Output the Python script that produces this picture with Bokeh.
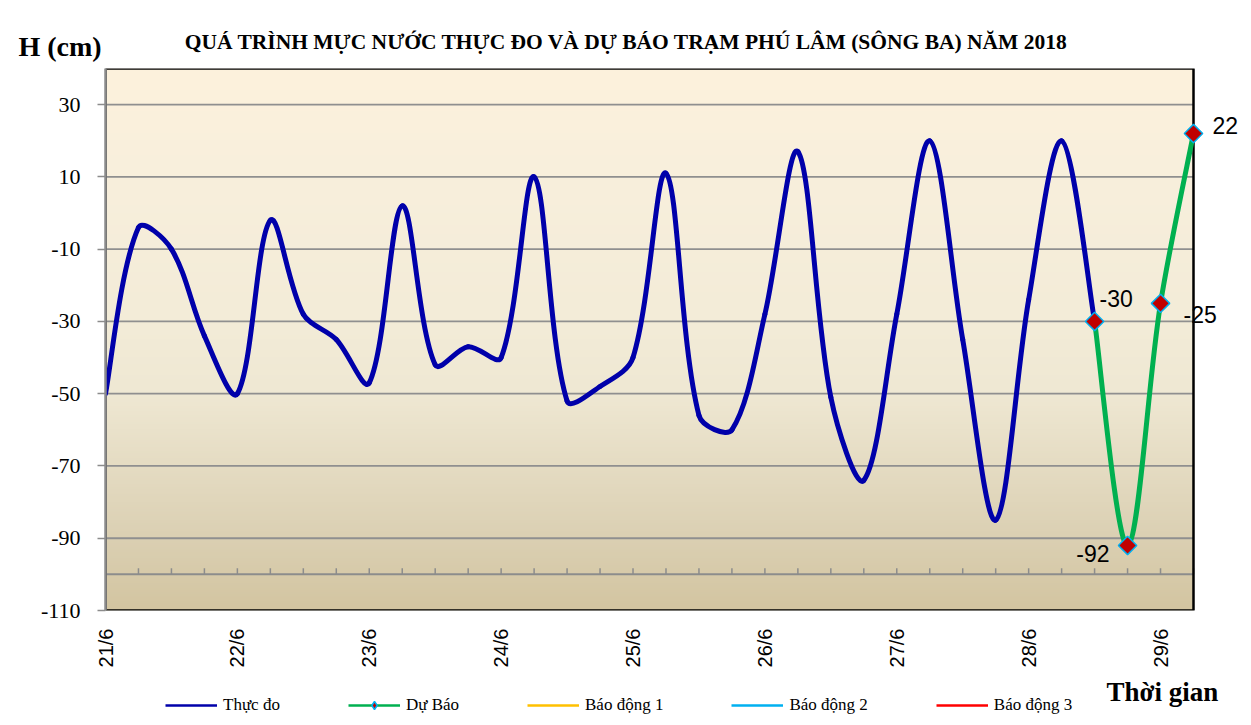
import math
import numpy as np
from bokeh.plotting import figure
from bokeh.layouts import column
from bokeh.models import (FixedTicker, LinearAxis, Range1d, Legend, LegendItem,
                          ColumnDataSource)
from bokeh.core.properties import value
from bokeh.embed import file_html
from bokeh.resources import INLINE

# ---------------- data ----------------
day_labels = ["21/6", "22/6", "23/6", "24/6", "25/6", "26/6", "27/6", "28/6", "29/6"]
day_ticks = [0, 1, 2, 3, 4, 5, 6, 7, 8]
y_ticks = [-110, -90, -70, -50, -30, -10, 10, 30]

# observed water level (cm), every 6 h from 21/6 00:00
obs_hours = [0, 6, 12, 18, 24, 30, 36, 42, 48, 54, 60, 66, 72, 78, 84, 90,
             96, 102, 108, 114, 120, 126, 132, 138, 144, 150, 156, 162, 168, 174, 180]
obs_level = [-50, -4, -10, -34, -50, -2, -28, -35, -47, 2, -42, -37, -40, 10, -52, -48,
             -40, 11, -56, -60, -28, 17, -51, -74, -28, 20, -35, -85, -24, 20, -30]

# forecast
fc_hours = [180, 186, 192, 198]
fc_level = [-30, -92, -25, 22]

series_names = ["Thực đo", "Dự Báo", "Báo động 1", "Báo động 2", "Báo động 3"]
series_colors = ["#0000AA", "#00B050", "#FFC000", "#00B0F0", "#FF0000"]

title_text = "QUÁ TRÌNH MỰC NƯỚC THỰC ĐO VÀ DỰ BÁO TRẠM PHÚ LÂM (SÔNG BA) NĂM 2018"
y_title = "H (cm)"
x_title = "Thời gian"

SERIF = "Liberation Serif"
SANS = "Liberation Sans"

obs_x = [h / 24.0 for h in obs_hours]
fc_x = [h / 24.0 for h in fc_hours]

# ---------------- layout constants ----------------
W = 1249
TOP_H = 68          # strip with the titles
FRAME_H = 542       # plot area height
AX_H = 60           # date labels
BOT_H = 53          # legend strip
LEFT = 105
PLOT_W = 1088       # plot area width in px
X0, X1 = 0, 8.25
Y0, Y1 = -110, 40
X_END = X1 * (W - LEFT) / PLOT_W
PX_X = PLOT_W / (X1 - X0)
PX_Y = FRAME_H / (Y1 - Y0)


def smooth_segments(xs, ys):
    """Cubic Bezier control points of a smoothed line through the points
    (tangent scaled by neighbouring segment lengths, as spreadsheet charts do)."""
    n = len(xs)

    def seglen(i):  # length of segment i -> i+1 in screen pixels
        if i < 0 or i >= n - 1:
            return 0.0
        return math.hypot((xs[i + 1] - xs[i]) * PX_X, (ys[i + 1] - ys[i]) * PX_Y)

    def tangent(i):
        a = max(i - 1, 0)
        b = min(i + 1, n - 1)
        return xs[b] - xs[a], ys[b] - ys[a]

    d = dict(x0=[], y0=[], x1=[], y1=[], cx0=[], cy0=[], cx1=[], cy1=[])
    for i in range(n - 1):
        L_prev, L, L_next = seglen(i - 1), seglen(i), seglen(i + 1)
        tx0, ty0 = tangent(i)
        tx1, ty1 = tangent(i + 1)
        f0 = L / (L_prev + L) / 3.0 if i > 0 else 1.0 / 6.0
        f1 = L / (L + L_next) / 3.0 if i + 1 < n - 1 else 1.0 / 6.0
        d["x0"].append(xs[i]); d["y0"].append(ys[i])
        d["x1"].append(xs[i + 1]); d["y1"].append(ys[i + 1])
        d["cx0"].append(xs[i] + tx0 * f0)
        d["cy0"].append(ys[i] + ty0 * f0)
        d["cx1"].append(xs[i + 1] - tx1 * f1)
        d["cy1"].append(ys[i + 1] - ty1 * f1)
    return ColumnDataSource(d)


def no_align(f):
    if "frame_align" in f.properties():
        f.frame_align = False


def bare_figure(height):
    f = figure(width=W, height=height, output_backend="svg", toolbar_location=None,
               x_range=Range1d(0, W), y_range=Range1d(0, height),
               x_axis_location=None, y_axis_location=None,
               min_border=0, min_border_left=0, min_border_right=0,
               min_border_top=0, min_border_bottom=0)
    f.outline_line_color = None
    f.background_fill_color = "white"
    f.border_fill_color = "white"
    f.grid.visible = False
    no_align(f)
    return f


# ---------------- title strip ----------------
top = bare_figure(TOP_H)
top.text(x=[626], y=[TOP_H - 41], text=[title_text], text_align="center",
         text_baseline="middle", text_font=value(SERIF), text_font_style="bold",
         text_font_size="21.5px", text_color="black")
top.text(x=[18], y=[TOP_H - 46], text=[y_title], text_align="left",
         text_baseline="middle", text_font=value(SERIF), text_font_style="bold",
         text_font_size="28px", text_color="black")

# ---------------- main chart ----------------
p = figure(width=W, height=FRAME_H + AX_H, output_backend="svg", toolbar_location=None,
           x_range=Range1d(X0, X_END), y_range=Range1d(Y0, Y1),
           x_axis_location=None, y_axis_location=None,
           min_border_left=LEFT, min_border_right=0, min_border_top=0,
           min_border_bottom=AX_H)
p.background_fill_color = "white"
p.border_fill_color = "white"
p.outline_line_color = None
p.grid.visible = False
no_align(p)

# gradient background of the plot area
stops_v = [-110, -90, -70, -50, -30, 10, 40]
stops_c = [(211, 197, 161), (219, 208, 179), (229, 220, 195), (239, 232, 211),
           (243, 236, 216), (248, 239, 220), (253, 242, 221)]
ny = 300
vv = np.linspace(Y0, Y1, ny)
img = np.empty((ny, 1), dtype=np.uint32)
view = img.view(dtype=np.uint8).reshape((ny, 1, 4))
for ch in range(3):
    view[:, 0, ch] = np.interp(vv, stops_v, [c[ch] for c in stops_c]).astype(np.uint8)
view[:, 0, 3] = 255
p.image_rgba(image=[img], x=X0, y=Y0, dw=X1 - X0, dh=Y1 - Y0)

# horizontal grid lines limited to the plot area
grid_y = [t for t in y_ticks if t > Y0]
p.segment(x0=[X0] * len(grid_y), x1=[X1] * len(grid_y), y0=grid_y, y1=grid_y,
          line_color="#8F8F8F", line_width=1.8)

# horizontal axis crossing at -100 with 6-hour ticks
cross_y = -100
six_h = [h / 24.0 for h in range(6, 199, 6)]
p.segment(x0=[X0], x1=[X1], y0=[cross_y], y1=[cross_y], line_color="#8C8C8C", line_width=2)
tick_len = 6 / PX_Y
p.segment(x0=six_h, x1=six_h, y0=[cross_y] * len(six_h),
          y1=[cross_y + tick_len] * len(six_h), line_color="#8C8C8C", line_width=1.5)

# plot-area border
p.quad(left=[X0], right=[X1], bottom=[Y0], top=[Y1], fill_color=None,
       line_color="black", line_width=2.5)

# y axis
yax = LinearAxis(ticker=FixedTicker(ticks=y_ticks))
yax.major_label_overrides = {t: str(t) for t in y_ticks}
yax.axis_line_color = "#8C8C8C"
yax.axis_line_width = 2.5
yax.major_tick_line_color = "#8C8C8C"
yax.major_tick_line_width = 1.5
yax.major_tick_out = 8
yax.major_tick_in = 0
yax.minor_tick_line_color = None
yax.major_label_standoff = 17
yax.major_label_text_font = SERIF
yax.major_label_text_font_size = "22px"
yax.major_label_text_color = "black"
p.add_layout(yax, "left")

# x axis with date labels at the bottom
xax = LinearAxis(ticker=FixedTicker(ticks=day_ticks))
xax.major_label_overrides = {t: lab for t, lab in zip(day_ticks, day_labels)}
xax.axis_line_color = None
xax.major_tick_line_color = None
xax.minor_tick_line_color = None
xax.major_tick_out = 0
xax.major_tick_in = 0
xax.major_label_orientation = math.pi / 2
xax.major_label_standoff = 18
xax.major_label_text_font = SANS
xax.major_label_text_font_size = "20px"
xax.major_label_text_color = "black"
p.add_layout(xax, "below")

# observed (smoothed)
p.bezier(x0="x0", y0="y0", x1="x1", y1="y1", cx0="cx0", cy0="cy0", cx1="cx1", cy1="cy1",
         source=smooth_segments(obs_x, obs_level), line_color=series_colors[0],
         line_width=5, line_cap="round")
# forecast (smoothed)
p.bezier(x0="x0", y0="y0", x1="x1", y1="y1", cx0="cx0", cy0="cy0", cx1="cx1", cy1="cy1",
         source=smooth_segments(fc_x, fc_level), line_color=series_colors[1],
         line_width=5, line_cap="round")
p.scatter(fc_x, fc_level, marker="square", angle=math.pi / 4, size=13,
          fill_color="#C00000", line_color="#00B0F0", line_width=1.5)

# value labels of forecast points
lab_dx = [5, -18, 23, 19]
lab_dy = [-23, 8, 11, -8]
lab_align = ["left", "right", "left", "left"]
for i in range(len(fc_level)):
    p.text(x=[fc_x[i]], y=[fc_level[i]], text=[str(fc_level[i])],
           x_offset=lab_dx[i], y_offset=lab_dy[i], text_align=lab_align[i],
           text_baseline="middle", text_font=value(SANS), text_font_size="23px",
           text_color="black")

# ---------------- legend strip ----------------
bot = bare_figure(BOT_H)
nan = float("nan")
items = []
for i, (nm, col) in enumerate(zip(series_names, series_colors)):
    r = bot.line("x", "y", source=ColumnDataSource(dict(x=[nan], y=[nan])),
                 line_color=col, line_width=2.5)
    rs = [r]
    if i == 1:
        m = bot.scatter("x", "y", source=ColumnDataSource(dict(x=[nan], y=[nan])),
                        marker="diamond", size=12,
                        fill_color="#C00000", line_color="#00B0F0", line_width=1.5)
        rs.append(m)
    items.append(LegendItem(label=nm, renderers=rs))
legend = Legend(items=items, orientation="horizontal", location=(165, 8))
legend.glyph_width = 52
legend.glyph_height = 20
legend.label_standoff = 6
legend.spacing = 68
legend.padding = 0
legend.margin = 0
legend.border_line_color = None
legend.background_fill_alpha = 0
legend.label_text_font = SERIF
legend.label_text_font_size = "17px"
legend.label_text_color = "black"
bot.add_layout(legend, "center")
bot.text(x=[1106], y=[BOT_H - 21], text=[x_title], text_align="left",
         text_baseline="middle", text_font=value(SERIF), text_font_style="bold",
         text_font_size="27px", text_color="black")

layout = column(top, p, bot, spacing=0)
open("out.html", "w").write(file_html(layout, INLINE))
